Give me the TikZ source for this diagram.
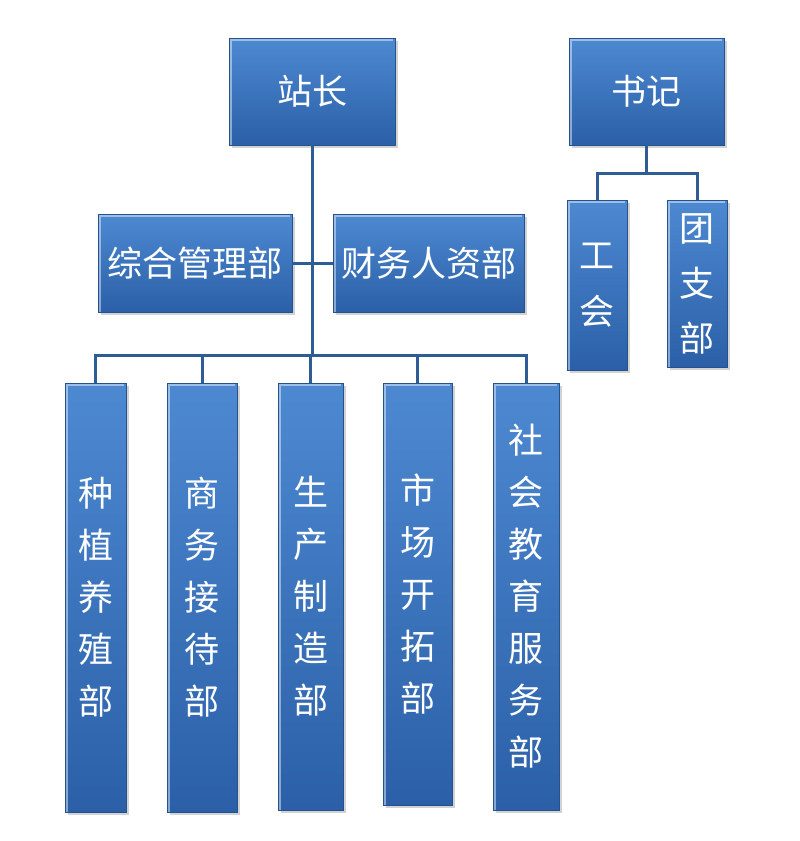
\documentclass[tikz,border=0pt]{standalone}
\usepackage{fontspec}
\newfontfamily\cjk{Noto Sans CJK SC}
\usetikzlibrary{shadows}
\definecolor{boxtop}{HTML}{4D89D1}
\definecolor{boxbot}{HTML}{2B60A8}
\definecolor{boxedge}{HTML}{24528F}
\definecolor{linkc}{HTML}{2E5C95}
\tikzset{
 orgbox/.style={draw=boxedge, line width=0.8pt, top color=boxtop, bottom color=boxbot,
   inner sep=0pt, text=white, align=center,
   font=\cjk\fontsize{35}{52}\selectfont,
   drop shadow={opacity=0.35, shadow xshift=2.5pt, shadow yshift=-2.5pt},
   path picture={\draw[white, opacity=0.45, line width=1.5pt]
     ([xshift=2pt,yshift=-2pt]path picture bounding box.south west) --
     ([xshift=2pt,yshift=-2pt]path picture bounding box.north west) --
     ([xshift=-2pt,yshift=-2pt]path picture bounding box.north east);}},
 link/.style={draw=linkc, line width=3pt}
}
\begin{document}
\begin{tikzpicture}[x=1pt,y=-1pt]
\useasboundingbox[fill=white] (0,0) rectangle (800,841);
% top level
\node[orgbox, minimum width=166pt, minimum height=107pt] (zz) at (312,91.5) {站长};
\node[orgbox, minimum width=155pt, minimum height=107pt] (sj) at (646.5,91.5) {书记};
% middle
\node[orgbox, minimum width=194pt, minimum height=98pt] (zh) at (195,263) {综合管理部};
\node[orgbox, minimum width=191pt, minimum height=98pt] (cw) at (428.5,263) {财务人资部};
% bottom
\node[orgbox, minimum width=61pt, minimum height=429pt] (b1) at (95.5,597.5) {种\\植\\养\\殖\\部};
\node[orgbox, minimum width=70pt, minimum height=429pt] (b2) at (202,597.5) {商\\务\\接\\待\\部};
\node[orgbox, minimum width=65pt, minimum height=427pt] (b3) at (310.5,596.5) {生\\产\\制\\造\\部};
\node[orgbox, minimum width=69pt, minimum height=422pt] (b4) at (417.5,594) {市\\场\\开\\拓\\部};
\node[orgbox, minimum width=66pt, minimum height=427pt] (b5) at (526,596.5) {社\\会\\教\\育\\服\\务\\部};
% right branch
\node[orgbox, minimum width=60pt, minimum height=170pt, font=\cjk\fontsize{35}{56}\selectfont] (gh) at (597,285) {工\\会};
\node[orgbox, minimum width=60pt, minimum height=167pt, font=\cjk\fontsize{35}{55}\selectfont] (tz) at (697,283.5) {团\\支\\部};
% connectors
\coordinate (bus) at (0,355);
\coordinate (rbus) at (0,173);
\draw[link] (zz.south) -- (zz.south |- bus);
\draw[link] (zh.east) -- (cw.west);
\draw[link] (b1.north) -- (b1.north |- bus) -- (b5.north |- bus) -- (b5.north);
\draw[link] (b2.north) -- (b2.north |- bus);
\draw[link] (b3.north) -- (b3.north |- bus);
\draw[link] (b4.north) -- (b4.north |- bus);
\draw[link] (sj.south) -- (sj.south |- rbus);
\draw[link] (gh.north) -- (gh.north |- rbus) -- (tz.north |- rbus) -- (tz.north);
\end{tikzpicture}
\end{document}
